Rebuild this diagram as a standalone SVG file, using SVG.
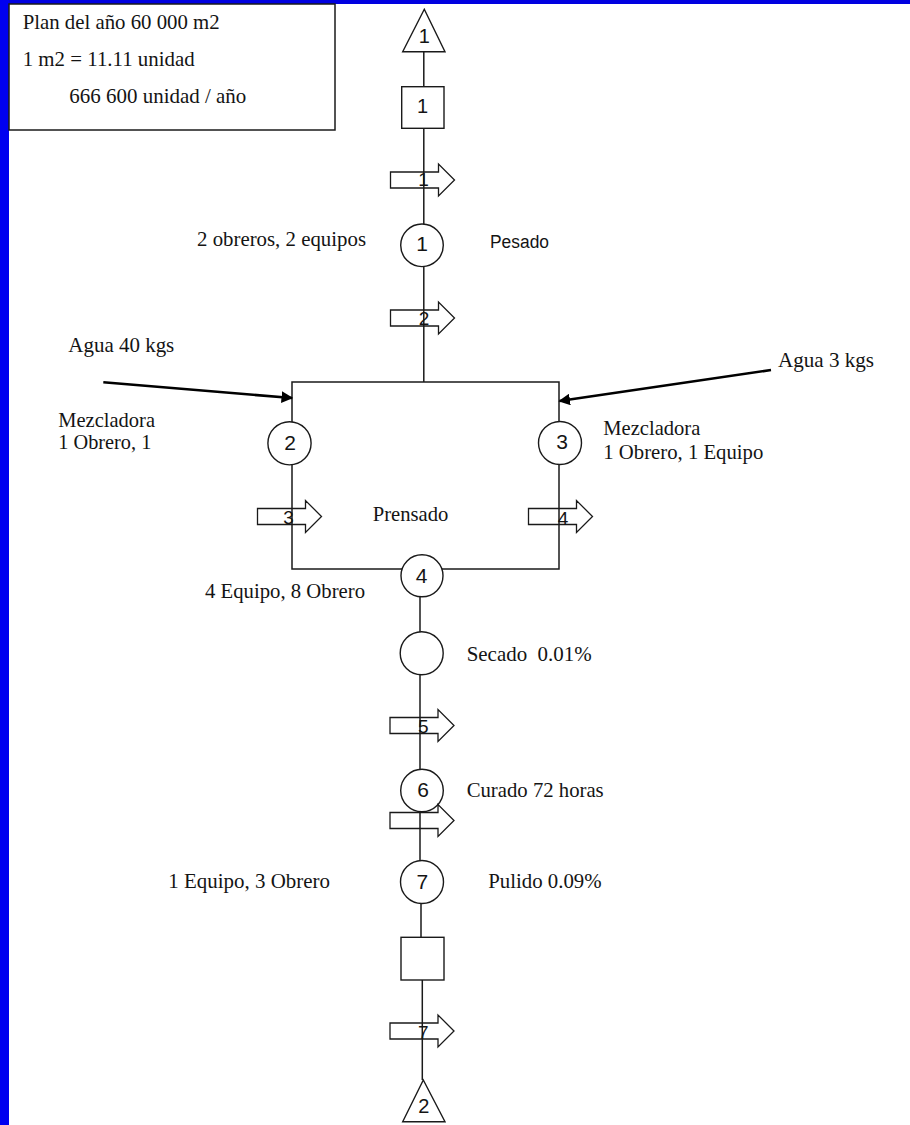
<svg xmlns="http://www.w3.org/2000/svg" width="910" height="1125" viewBox="0 0 910 1125">
<style>
.ln{stroke:#1a1a1a;stroke-width:1.5;fill:none}
.nd{stroke:#1a1a1a;stroke-width:1.4;fill:#fff}
.ba{stroke:#1a1a1a;stroke-width:1.3;fill:none}
.wt{stroke:#000;stroke-width:2.6;fill:none}
.sr{font-family:"Liberation Serif","Times New Roman",serif;font-size:21px;fill:#141414}
.sn{font-family:"Liberation Sans",Arial,sans-serif;fill:#141414;text-anchor:middle}
.cd{font-size:21px}
.ad{font-size:19px}
</style>
<defs>
<path id="blk" d="M0,-8 H48 V-16 L64,0 L48,16 V8 H0 Z"/>
<marker id="ah" viewBox="0 0 10 10" refX="9" refY="5" markerWidth="4.5" markerHeight="4.5" markerUnits="strokeWidth" orient="auto">
<path d="M0,0 L10,5 L0,10 Z" fill="#000"/>
</marker>
</defs>
<rect x="0" y="0" width="910" height="1125" fill="#fff"/>
<rect x="0" y="0" width="910" height="4" fill="#0000e0"/>
<rect x="0" y="0" width="9" height="1125" fill="#0000f0"/>

<g id="info">
<rect x="9" y="4" width="326" height="126" fill="#fff" stroke="#1a1a1a" stroke-width="1.5"/>
<text class="sr" x="22.7" y="29" textLength="197" lengthAdjust="spacingAndGlyphs">Plan del año 60 000 m2</text>
<text class="sr" x="22.7" y="66" textLength="172" lengthAdjust="spacingAndGlyphs">1 m2 = 11.11 unidad</text>
<text class="sr" x="69.3" y="103" textLength="177" lengthAdjust="spacingAndGlyphs">666 600 unidad / año</text>
</g>

<g id="connectors">
<line class="ln" x1="423.8" y1="52" x2="423.8" y2="382"/>
<rect class="ln" x="292" y="382" width="267" height="187"/>
<line class="ln" x1="420" y1="597" x2="420" y2="860"/>
<line class="ln" x1="421" y1="903" x2="421" y2="937.5"/>
<line class="ln" x1="422.3" y1="980" x2="422.3" y2="1080"/>
<line class="wt" x1="103.3" y1="382.3" x2="292" y2="398" marker-end="url(#ah)"/>
<line class="wt" x1="771" y1="370" x2="559.5" y2="401" marker-end="url(#ah)"/>
</g>

<g id="start">
<polygon class="nd" points="424.3,9.3 445,51.7 402.7,51.7"/>
<text class="sn" x="424.3" y="43.3" font-size="20">1</text>
</g>
<g id="store1">
<rect class="nd" x="401.7" y="86.7" width="42.3" height="41.6"/>
<text class="sn" x="422.5" y="112.7" font-size="20">1</text>
</g>
<g id="op1">
<circle class="nd" cx="422" cy="245.3" r="21.3"/>
<text class="sn cd" x="422" y="250.5">1</text>
</g>
<g id="op2">
<circle class="nd" cx="289.5" cy="443.3" r="21.6"/>
<text class="sn cd" x="290" y="450">2</text>
</g>
<g id="op3">
<circle class="nd" cx="560" cy="443" r="21.5"/>
<text class="sn cd" x="562" y="449.3">3</text>
</g>
<g id="op4">
<circle class="nd" cx="422" cy="575.8" r="21"/>
<text class="sn cd" x="421.7" y="582.7">4</text>
</g>
<g id="op5">
<circle class="nd" cx="421.7" cy="653.3" r="21.5"/>
</g>
<g id="op6">
<circle class="nd" cx="422" cy="790.5" r="21.3"/>
<text class="sn cd" x="423" y="797.3">6</text>
</g>
<g id="op7">
<circle class="nd" cx="422" cy="882" r="21.5"/>
<text class="sn cd" x="422.3" y="889">7</text>
</g>
<g id="store2">
<rect class="nd" x="401" y="937.3" width="43" height="42.7"/>
</g>
<g id="end">
<polygon class="nd" points="423.3,1080 445,1121.7 402.7,1121.7"/>
<text class="sn" x="423.8" y="1113" font-size="20">2</text>
</g>

<g id="flow1"><use href="#blk" class="ba" transform="translate(390.5,180)"/><text class="sn ad" x="423.5" y="185.5">1</text></g>
<g id="flow2"><use href="#blk" class="ba" transform="translate(390.5,318)"/><text class="sn ad" x="424" y="325">2</text></g>
<g id="flow3"><use href="#blk" class="ba" transform="translate(257.5,516.5)"/><text class="sn ad" x="288.5" y="523.5">3</text></g>
<g id="flow4"><use href="#blk" class="ba" transform="translate(528.5,516.5)"/><text class="sn ad" x="563" y="524.5">4</text></g>
<g id="flow5"><use href="#blk" class="ba" transform="translate(390,725.5)"/><text class="sn ad" x="423.3" y="732.8">5</text></g>
<g id="flow6"><use href="#blk" class="ba" transform="translate(390,820.5)"/></g>
<g id="flow7"><use href="#blk" class="ba" transform="translate(390,1031)"/><text class="sn ad" x="423.3" y="1038.5">7</text></g>

<g id="labels">
<text class="sr" x="197" y="246" textLength="169" lengthAdjust="spacingAndGlyphs">2 obreros, 2 equipos</text>
<text class="sn" x="519.5" y="248" font-size="18" textLength="59" lengthAdjust="spacingAndGlyphs">Pesado</text>
<text class="sr" x="68.3" y="351.7" textLength="106" lengthAdjust="spacingAndGlyphs">Agua 40 kgs</text>
<text class="sr" x="778" y="366.7" textLength="96" lengthAdjust="spacingAndGlyphs">Agua 3 kgs</text>
<text class="sr" x="58.3" y="426.7" textLength="96.7" lengthAdjust="spacingAndGlyphs">Mezcladora</text>
<text class="sr" x="58.3" y="449" textLength="93" lengthAdjust="spacingAndGlyphs">1 Obrero, 1</text>
<text class="sr" x="603.3" y="435" textLength="97" lengthAdjust="spacingAndGlyphs">Mezcladora</text>
<text class="sr" x="603.3" y="459.3" textLength="160" lengthAdjust="spacingAndGlyphs">1 Obrero, 1 Equipo</text>
<text class="sr" x="372.7" y="520.7" textLength="75.6" lengthAdjust="spacingAndGlyphs">Prensado</text>
<text class="sr" x="205" y="598.3" textLength="160" lengthAdjust="spacingAndGlyphs">4 Equipo, 8 Obrero</text>
<text class="sr" x="466.7" y="660.7" textLength="125" lengthAdjust="spacingAndGlyphs" xml:space="preserve">Secado  0.01%</text>
<text class="sr" x="466.7" y="796.7" textLength="137" lengthAdjust="spacingAndGlyphs">Curado 72 horas</text>
<text class="sr" x="168.3" y="888.3" textLength="161.7" lengthAdjust="spacingAndGlyphs">1 Equipo, 3 Obrero</text>
<text class="sr" x="488.3" y="888" textLength="113.3" lengthAdjust="spacingAndGlyphs">Pulido 0.09%</text>
</g>
</svg>
